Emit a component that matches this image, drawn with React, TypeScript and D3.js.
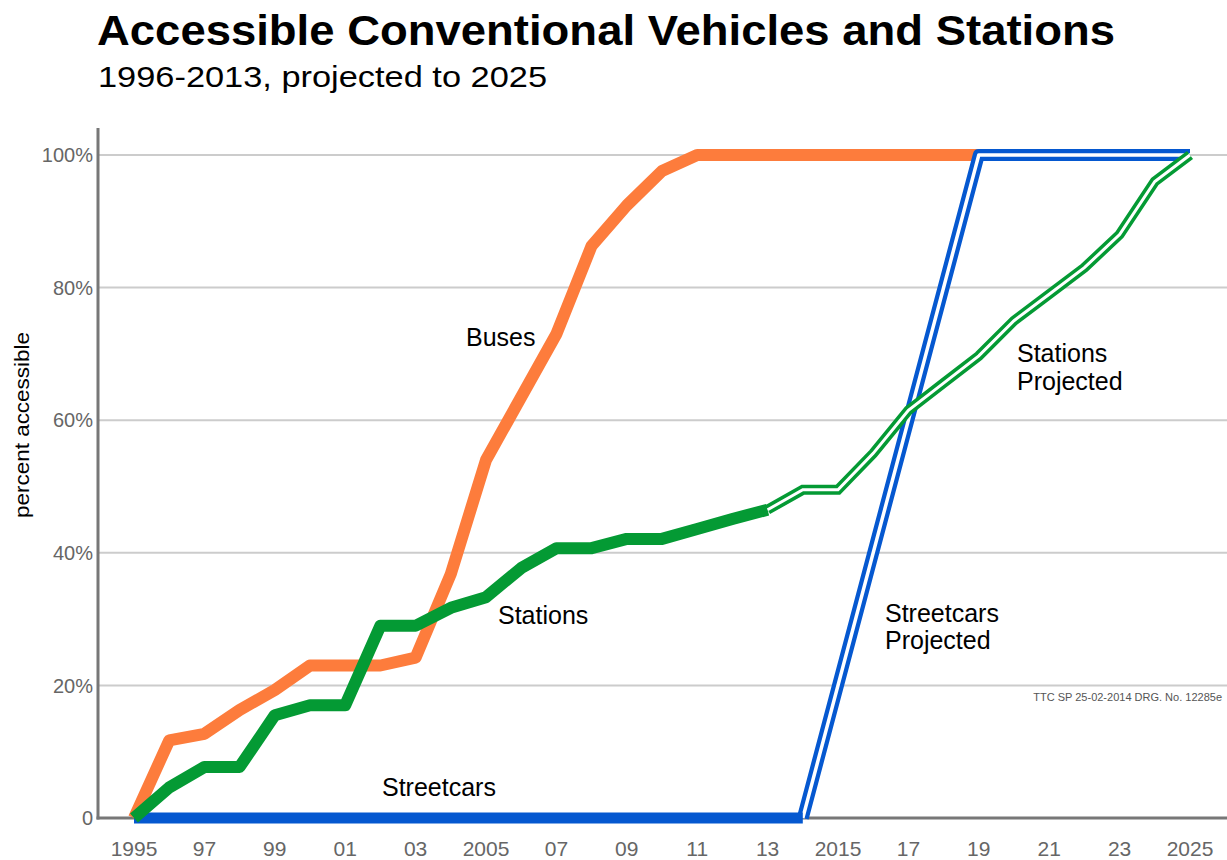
import * as d3 from 'd3';
import React, { useRef, useEffect } from 'react';

const busYears = [1995, 1996, 1997, 1998, 1999, 2000, 2001, 2002, 2003, 2004, 2005, 2006, 2007, 2008, 2009, 2010, 2011, 2012, 2013, 2014, 2015, 2016, 2017, 2018, 2019];
const busValues = [0, 11.7, 12.7, 16.3, 19.3, 23, 23, 23, 24.2, 36.8, 54, 63.5, 73, 86.3, 92.4, 97.6, 100, 100, 100, 100, 100, 100, 100, 100, 100];

const stationYears = [1995, 1996, 1997, 1998, 1999, 2000, 2001, 2002, 2003, 2004, 2005, 2006, 2007, 2008, 2009, 2010, 2011, 2012, 2013];
const stationValues = [0, 4.6, 7.7, 7.7, 15.5, 17, 17, 29, 29, 31.7, 33.3, 37.7, 40.7, 40.7, 42.1, 42.1, 43.6, 45.1, 46.5];

const stationProjYears = [2013, 2014, 2015, 2016, 2017, 2018, 2019, 2020, 2021, 2022, 2023, 2024, 2025];
const stationProjValues = [46.5, 49.5, 49.5, 55, 61.5, 65.6, 69.7, 75, 79, 83, 88, 96, 100];

const streetcarYears = [1995, 2014];
const streetcarValues = [0, 0];

const streetcarProjYears = [2014, 2019, 2025];
const streetcarProjValues = [0, 100, 100];

const yTicks = [0, 20, 40, 60, 80, 100];
const xTicks = [1995, 1997, 1999, 2001, 2003, 2005, 2007, 2009, 2011, 2013, 2015, 2017, 2019, 2021, 2023, 2025];
const xTickLabels = ['1995', '97', '99', '01', '03', '2005', '07', '09', '11', '13', '2015', '17', '19', '21', '23', '2025'];

const width = 1227;
const height = 860;
const font = 'Liberation Sans, Arial, Helvetica, sans-serif';

export default function App() {
  const svgRef = useRef<SVGSVGElement>(null);

  useEffect(() => {
    if (!svgRef.current) return;
    const svg = d3.select(svgRef.current);
    svg.selectAll('*').remove();

    const xScale = d3.scaleLinear().domain([1995, 2025]).range([134, 1190]);
    const yScale = d3.scaleLinear().domain([0, 100]).range([818, 155]);

    const line = d3.line<[number, number]>()
      .x(d => xScale(d[0]))
      .y(d => yScale(d[1]));

    const zip = (xs: number[], ys: number[]) => xs.map((x, i) => [x, ys[i]] as [number, number]);

    // gridlines
    svg.append('g')
      .selectAll('line')
      .data(yTicks.filter(t => t > 0))
      .enter()
      .append('line')
      .attr('x1', 98)
      .attr('x2', width)
      .attr('y1', d => yScale(d))
      .attr('y2', d => yScale(d))
      .attr('stroke', '#cccccc')
      .attr('stroke-width', 2);

    // axes
    svg.append('line')
      .attr('x1', 98).attr('x2', 98)
      .attr('y1', 128).attr('y2', yScale(0) + 1.5)
      .attr('stroke', '#777').attr('stroke-width', 3);
    svg.append('line')
      .attr('x1', 96.5).attr('x2', width)
      .attr('y1', yScale(0)).attr('y2', yScale(0))
      .attr('stroke', '#777').attr('stroke-width', 3);

    // y tick labels
    svg.append('g')
      .selectAll('text')
      .data(yTicks)
      .enter()
      .append('text')
      .attr('x', 93)
      .attr('y', d => yScale(d))
      .attr('dy', '0.36em')
      .attr('text-anchor', 'end')
      .attr('font-family', font)
      .attr('font-size', 20)
      .attr('fill', '#666')
      .text(d => (d === 0 ? '0' : `${d}%`));

    // x tick labels
    svg.append('g')
      .selectAll('text')
      .data(xTicks)
      .enter()
      .append('text')
      .attr('x', d => xScale(d))
      .attr('y', 856)
      .attr('text-anchor', 'middle')
      .attr('font-family', font)
      .attr('font-size', 21)
      .attr('fill', '#666')
      .text((d, i) => xTickLabels[i]);

    // Buses
    svg.append('path')
      .attr('d', line(zip(busYears, busValues)))
      .attr('fill', 'none')
      .attr('stroke', '#fd7c3c')
      .attr('stroke-width', 12)
      .attr('stroke-linejoin', 'round');

    // Streetcars projected (double line)
    const scProj = line(zip(streetcarProjYears, streetcarProjValues));
    svg.append('path')
      .attr('d', scProj)
      .attr('fill', 'none')
      .attr('stroke', '#0558d0')
      .attr('stroke-width', 12)
      .attr('stroke-linejoin', 'round');
    svg.append('path')
      .attr('d', scProj)
      .attr('fill', 'none')
      .attr('stroke', '#fff')
      .attr('stroke-width', 3.5)
      .attr('stroke-linejoin', 'round');

    // Streetcars
    svg.append('path')
      .attr('d', line(zip(streetcarYears, streetcarValues)))
      .attr('fill', 'none')
      .attr('stroke', '#0558d0')
      .attr('stroke-width', 11)
      .attr('stroke-linejoin', 'round');

    // Stations
    svg.append('path')
      .attr('d', line(zip(stationYears, stationValues)))
      .attr('fill', 'none')
      .attr('stroke', '#049a34')
      .attr('stroke-width', 12)
      .attr('stroke-linejoin', 'round');

    // Stations projected (double line)
    const stProj = line(zip(stationProjYears, stationProjValues));
    svg.append('path')
      .attr('d', stProj)
      .attr('fill', 'none')
      .attr('stroke', '#049a34')
      .attr('stroke-width', 10)
      .attr('stroke-linejoin', 'miter');
    svg.append('path')
      .attr('d', stProj)
      .attr('fill', 'none')
      .attr('stroke', '#fff')
      .attr('stroke-width', 3)
      .attr('stroke-linejoin', 'miter');

    // labels
    const labels = [
      { text: 'Buses', x: 466, y: 346 },
      { text: 'Stations', x: 498, y: 624 },
      { text: 'Streetcars', x: 382, y: 796 },
      { text: 'Streetcars', x: 885, y: 622 },
      { text: 'Projected', x: 885, y: 649 },
      { text: 'Stations', x: 1017, y: 362 },
      { text: 'Projected', x: 1017, y: 390 },
    ];
    svg.append('g')
      .selectAll('text')
      .data(labels)
      .enter()
      .append('text')
      .attr('x', d => d.x)
      .attr('y', d => d.y)
      .attr('font-family', font)
      .attr('font-size', 25)
      .attr('fill', '#000')
      .text(d => d.text);

    // footnote
    svg.append('text')
      .attr('x', 1222)
      .attr('y', 701)
      .attr('text-anchor', 'end')
      .attr('font-family', font)
      .attr('font-size', 11)
      .attr('fill', '#555')
      .text('TTC SP 25-02-2014 DRG. No. 12285e');

    // y axis title
    svg.append('text')
      .attr('transform', 'translate(29,425) rotate(-90)')
      .attr('text-anchor', 'middle')
      .attr('font-family', font)
      .attr('font-size', 21)
      .attr('textLength', 186)
      .attr('lengthAdjust', 'spacingAndGlyphs')
      .attr('fill', '#000')
      .text('percent accessible');

    // title
    svg.append('text')
      .attr('x', 97)
      .attr('y', 45)
      .attr('font-family', font)
      .attr('font-size', 42)
      .attr('font-weight', 'bold')
      .attr('textLength', 1018)
      .attr('lengthAdjust', 'spacingAndGlyphs')
      .attr('fill', '#000')
      .text('Accessible Conventional Vehicles and Stations');

    svg.append('text')
      .attr('x', 98)
      .attr('y', 87)
      .attr('font-family', font)
      .attr('font-size', 30)
      .attr('textLength', 449)
      .attr('lengthAdjust', 'spacingAndGlyphs')
      .attr('fill', '#000')
      .text('1996-2013, projected to 2025');
  }, []);

  return (
    <div style={{ position: 'absolute', left: 0, top: 0 }}>
      <svg ref={svgRef} width={width} height={height} style={{ display: 'block' }} />
    </div>
  );
}
